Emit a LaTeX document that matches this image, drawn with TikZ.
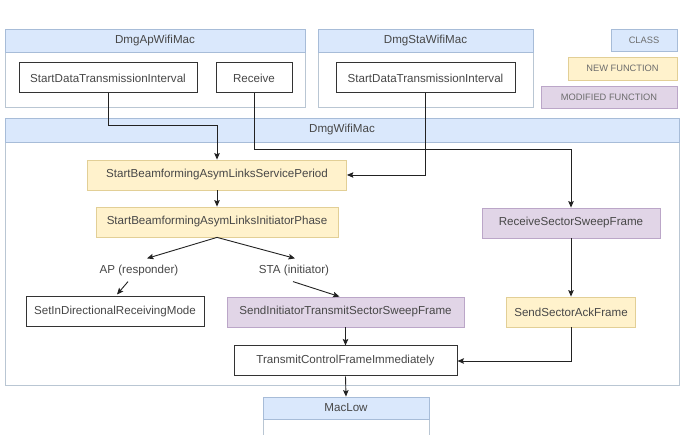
\documentclass[tikz,border=0pt]{standalone}
\usepackage{fontspec}
\setmainfont{Liberation Sans}
\usetikzlibrary{arrows.meta}
\definecolor{txt}{HTML}{474747}
\definecolor{linecol}{HTML}{222222}
\definecolor{fnborder}{HTML}{333333}
\definecolor{bluefill}{HTML}{DAE8FC}
\definecolor{bluedraw}{HTML}{A7BCD8}
\definecolor{yellowfill}{HTML}{FFF2CC}
\definecolor{yellowdraw}{HTML}{E2CF96}
\definecolor{purplefill}{HTML}{E1D5E7}
\definecolor{purpledraw}{HTML}{BBA6C8}
\definecolor{bodydraw}{HTML}{B9C6D3}
\tikzset{
  boxbase/.style={rectangle, inner sep=0pt, minimum height=30pt, text=txt,
    font=\fontsize{11.6}{14}\selectfont, line width=0.8pt},
  fn/.style={boxbase, fill=white, draw=fnborder, line width=1pt},
  newfn/.style={boxbase, fill=yellowfill, draw=yellowdraw},
  modfn/.style={boxbase, fill=purplefill, draw=purpledraw},
  hdr/.style={boxbase, fill=bluefill, draw=bluedraw},
  cbody/.style={rectangle, inner sep=0pt, fill=white, draw=bodydraw, line width=0.8pt},
  lbl/.style={inner sep=3pt, text=txt, font=\fontsize{11.6}{14}\selectfont},
  arr/.style={draw=linecol, line width=0.9pt, -{Stealth[length=6.5pt,width=5.5pt,inset=1.2pt]}}
}
\begin{document}
\begin{tikzpicture}[x=1pt,y=-1pt]
\clip (0,0) rectangle (683,435);
\fill[white] (0,0) rectangle (683,435);

% DmgApWifiMac
\node[cbody, minimum width=300pt, minimum height=55pt] (apbody) at (155,79.5) {};
\node[hdr, minimum width=300pt, minimum height=23pt] (aphdr) at (155,40.5) {DmgApWifiMac};
\node[fn, minimum width=178pt] (sdtiap) at (108,78) {StartDataTransmissionInterval};
\node[fn, minimum width=76pt] (recv) at (254,78) {Receive};

% DmgStaWifiMac
\node[cbody, minimum width=215pt, minimum height=55pt] (stabody) at (425.5,79.5) {};
\node[hdr, minimum width=215pt, minimum height=23pt] (stahdr) at (425.5,40.5) {DmgStaWifiMac};
\node[fn, minimum width=179pt] (sdtista) at (425.5,78) {StartDataTransmissionInterval};

% Legend
\node[hdr, text=txt!80, font=\fontsize{9.3}{11}\selectfont, minimum width=66pt, minimum height=22pt] (lgclass) at (644,40) {CLASS};
\node[newfn, text=txt!80, font=\fontsize{9.3}{11}\selectfont, minimum width=109pt, minimum height=23pt] (lgnew) at (622.5,68.5) {NEW FUNCTION};
\node[modfn, text=txt!80, font=\fontsize{9.3}{11}\selectfont, minimum width=136pt, minimum height=22pt] (lgmod) at (609,97) {MODIFIED FUNCTION};

% DmgWifiMac
\node[cbody, minimum width=674pt, minimum height=243pt] (wbody) at (342,263.5) {};
\node[hdr, minimum width=674pt, minimum height=24pt] (whdr) at (342,130) {DmgWifiMac};

\node[newfn, minimum width=259pt] (sbalsp) at (217,175) {StartBeamformingAsymLinksServicePeriod};
\node[newfn, minimum width=242pt] (sbalip) at (217,222) {StartBeamformingAsymLinksInitiatorPhase};
\node[modfn, minimum width=178pt] (rssf) at (571,223) {ReceiveSectorSweepFrame};

\node[lbl] (aplbl) at (139,271) {AP (responder)};
\node[lbl] (stalbl) at (294,271) {STA (initiator)};

\node[fn, minimum width=178pt] (sidrm) at (115,312) {SetInDirectionalReceivingMode};
\node[modfn, minimum width=237pt] (sitssf) at (345.5,312) {SendInitiatorTransmitSectorSweepFrame};
\node[newfn, minimum width=129pt] (ssaf) at (571,312) {SendSectorAckFrame};
\node[fn, minimum width=223pt] (tcfi) at (345.5,361) {TransmitControlFrameImmediately};

% MacLow
\node[cbody, minimum width=166pt, minimum height=24pt] (mlbody) at (346,431) {};
\node[hdr, minimum width=166pt, minimum height=22pt] (mlhdr) at (346,408) {MacLow};

% Connectors
\draw[arr] (sdtiap.south) -- ++(0,32) -| (sbalsp.north);
\draw[arr] (recv.south) -- ++(0,56) -| (rssf.north);
\draw[arr] (sdtista.south) |- (sbalsp.east);
\draw[arr] (sbalsp.south) -- (sbalip.north);
\draw[arr] (sbalip.south) -- ([xshift=8pt,yshift=4pt]aplbl.north);
\draw[arr] (sbalip.south) -- ([xshift=1pt,yshift=4pt]stalbl.north);
\draw[arr] ([xshift=-11pt,yshift=-2pt]aplbl.south) -- ([xshift=2pt,yshift=2pt]sidrm.north);
\draw[arr] ([xshift=-1pt,yshift=-2pt]stalbl.south) -- ([xshift=-6pt]sitssf.north);
\draw[arr] (sitssf.south) -- (tcfi.north);
\draw[arr] (rssf.south) -- (ssaf.north);
\draw[arr] (ssaf.south) |- (tcfi.east);
\draw[arr] (tcfi.south) -- (mlhdr.north);
\end{tikzpicture}
\end{document}
